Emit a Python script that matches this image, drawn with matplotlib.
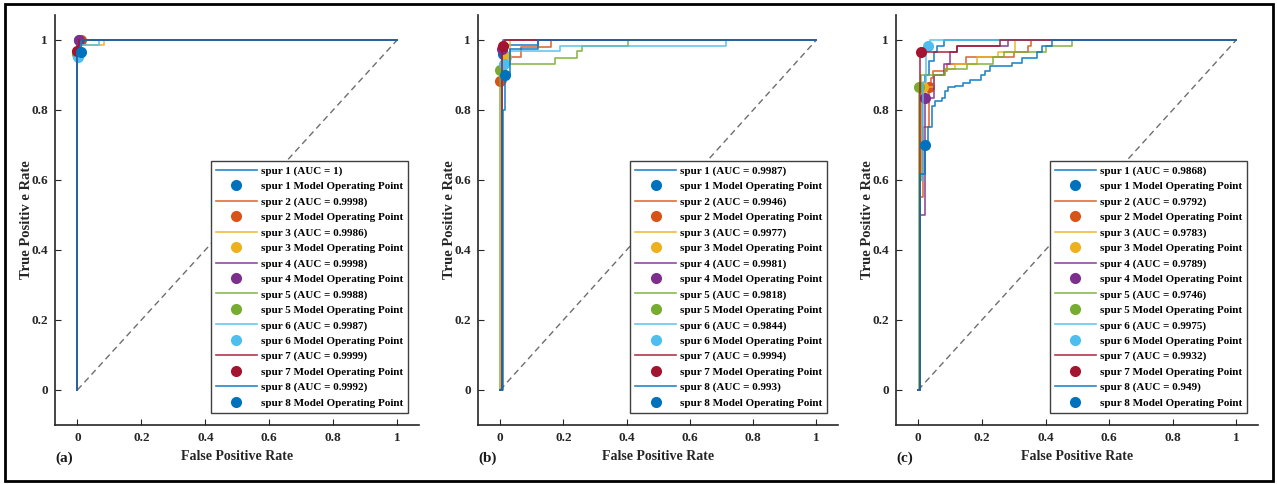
import matplotlib
matplotlib.use('Agg')
import matplotlib.pyplot as plt
from matplotlib.patches import Rectangle

plt.rcParams['font.family'] = ['Liberation Serif', 'DejaVu Serif']
plt.rcParams['font.weight'] = 'bold'

# ---------------- data ----------------
spur_names = ['spur 1', 'spur 2', 'spur 3', 'spur 4', 'spur 5', 'spur 6', 'spur 7', 'spur 8']
colors = ['#0072BD', '#D95319', '#EDB120', '#7E2F8E', '#77AC30', '#4DBEEE', '#A2142F', '#0072BD']
tick_vals = [0, 0.2, 0.4, 0.6, 0.8, 1]
tick_labels = ['0', '0.2', '0.4', '0.6', '0.8', '1']
panel_letters = ['(a)', '(b)', '(c)']

# panel (a): ROC staircase (FPR where TPR rises to the given value)
auc_a = ['1', '0.9998', '0.9986', '0.9998', '0.9988', '0.9987', '0.9999', '0.9992']
fpr_a = [[0, 0, 1], [0, 0, 0.01, 1], [0, 0, 0.01, 0.082, 1], [0, 0, 0.005, 1],
         [0, 0, 0.012, 1], [0, 0, 0.01, 0.069, 1], [0, 0, 0.005, 1], [0, 0, 0.01, 1]]
tpr_a = [[0, 1, 1], [0, 0.97, 1, 1], [0, 0.96, 0.985, 1, 1], [0, 0.99, 1, 1],
         [0, 0.95, 1, 1], [0, 0.94, 0.985, 1, 1], [0, 0.965, 1, 1], [0, 0.96, 1, 1]]
op_fpr_a = [0.005, 0.01, 0.0, 0.005, 0.0, 0.003, 0.0, 0.01]
op_tpr_a = [1.0, 1.0, 0.965, 1.0, 0.96, 0.95, 0.968, 0.966]

# panel (b)
auc_b = ['0.9987', '0.9946', '0.9977', '0.9981', '0.9818', '0.9844', '0.9994', '0.993']
fpr_b = [[0, 0.005, 0.02, 0.12, 1],
         [0, 0.005, 0.02, 0.065, 0.16, 1],
         [0, 0.005, 0.02, 0.03, 1],
         [0, 0.005, 0.01, 1],
         [0, 0, 0.02, 0.174, 0.244, 0.258, 0.404, 1],
         [0, 0.005, 0.03, 0.189, 0.715, 1],
         [0, 0.005, 0.015, 1],
         [0, 0.01, 0.016, 0.03, 0.12, 1]]
tpr_b = [[0, 0.95, 0.985, 1, 1],
         [0, 0.88, 0.95, 0.98, 1, 1],
         [0, 0.9, 0.95, 1, 1],
         [0, 0.97, 1, 1],
         [0, 0.915, 0.932, 0.949, 0.967, 0.983, 1, 1],
         [0, 0.93, 0.967, 0.983, 1, 1],
         [0, 0.983, 1, 1],
         [0, 0.8, 0.9, 0.975, 1, 1]]
op_fpr_b = [0.01, 0.0, 0.02, 0.005, 0.0, 0.013, 0.008, 0.016]
op_tpr_b = [0.96, 0.883, 0.95, 0.975, 0.915, 0.93, 0.983, 0.90]

# panel (c)
auc_c = ['0.9868', '0.9792', '0.9783', '0.9789', '0.9746', '0.9975', '0.9932', '0.949']
fpr_c = [[0, 0.005, 0.012, 0.02, 0.035, 0.05, 0.06, 0.08, 1],
         [0, 0.005, 0.015, 0.034, 0.04, 0.045, 0.09, 0.15, 0.3, 0.345, 0.355, 1],
         [0, 0.005, 0.01, 0.05, 0.085, 0.116, 0.184, 0.25, 0.304, 1],
         [0, 0.005, 0.022, 0.05, 0.08, 0.1, 0.121, 0.283, 1],
         [0, 0.003, 0.01, 0.085, 0.153, 0.236, 0.27, 0.4, 0.482, 1],
         [0, 0.005, 0.015, 0.025, 0.038, 1],
         [0, 0.005, 0.121, 0.257, 1],
         [0, 0.005, 0.02, 0.03, 0.043, 0.053, 0.074, 0.085, 0.095, 0.116, 0.142,
          0.163, 0.197, 0.21, 0.226, 0.294, 0.325, 0.372, 0.388, 0.419, 1]]
tpr_c = [[0, 0.6, 0.85, 0.9, 0.94, 0.965, 0.983, 1, 1],
         [0, 0.55, 0.75, 0.866, 0.89, 0.91, 0.93, 0.95, 0.964, 0.983, 1, 1],
         [0, 0.6, 0.866, 0.9, 0.916, 0.93, 0.95, 0.964, 1, 1],
         [0, 0.5, 0.833, 0.9, 0.93, 0.964, 0.983, 1, 1],
         [0, 0.866, 0.9, 0.916, 0.93, 0.95, 0.964, 0.983, 1, 1],
         [0, 0.6, 0.88, 0.983, 1, 1],
         [0, 0.964, 0.983, 1, 1],
         [0, 0.617, 0.70, 0.75, 0.811, 0.826, 0.835, 0.854, 0.864, 0.869, 0.876,
          0.885, 0.90, 0.911, 0.926, 0.935, 0.949, 0.964, 0.983, 1.0, 1.0]]
op_fpr_c = [0.008, 0.034, 0.015, 0.022, 0.003, 0.032, 0.008, 0.022]
op_tpr_c = [0.866, 0.866, 0.866, 0.833, 0.866, 0.983, 0.964, 0.70]

panels = [
    (auc_a, fpr_a, tpr_a, op_fpr_a, op_tpr_a),
    (auc_b, fpr_b, tpr_b, op_fpr_b, op_tpr_b),
    (auc_c, fpr_c, tpr_c, op_fpr_c, op_tpr_c),
]

# ---------------- layout ----------------
W, H = 1277, 484
fig = plt.figure(figsize=(W / 100, H / 100), dpi=100)
fig.patch.set_facecolor('white')

ax_px = [(55, 364), (478, 360), (896, 362)]  # left, width (px)
top_px, bot_px = 15, 425

for k, (auc, fpr, tpr, opx, opy) in enumerate(panels):
    left, width = ax_px[k]
    ax = fig.add_axes([left / W, 1 - bot_px / H, width / W, (bot_px - top_px) / H])
    ax.plot([0, 1], [0, 1], linestyle=(0, (4.5, 3)), color='#6e6e6e', lw=1.0, zorder=1)
    for i in range(8):
        ax.plot(fpr[i], tpr[i], drawstyle='steps-post', color=colors[i], lw=1.2,
                alpha=0.85, label=f'{spur_names[i]} (AUC = {auc[i]})', zorder=2 + 2 * i)
        ax.plot([opx[i]], [opy[i]], 'o', color=colors[i], ms=8, mec='none',
                label=f'{spur_names[i]} Model Operating Point', zorder=3 + 2 * i)
    ax.set_xlim(-0.07, 1.068)
    ax.set_ylim(-0.1, 1.071)
    ax.set_xticks(tick_vals)
    ax.set_xticklabels(tick_labels)
    ax.set_yticks(tick_vals)
    ax.set_yticklabels(tick_labels)
    ax.tick_params(direction='in', length=4, width=0.8, labelsize=9.5, pad=5, colors='#262626')
    for lab in ax.get_xticklabels() + ax.get_yticklabels():
        lab.set_fontweight('bold')
        lab.set_color('#262626')
    for s in ['top', 'right']:
        ax.spines[s].set_visible(False)
    for s in ['left', 'bottom']:
        ax.spines[s].set_linewidth(1.2)
        ax.spines[s].set_color('#262626')
    ax.set_xlabel('False Positive Rate', fontsize=10, fontweight='bold', labelpad=4, color='#262626')
    ax.set_ylabel('True Positiv e Rate', fontsize=10.5, fontweight='bold', labelpad=-1.5, color='#262626')
    ax.text(0.0, -0.08, panel_letters[k], transform=ax.transAxes, fontsize=11,
            fontweight='bold', ha='left', va='center', color='#1a1a1a')
    leg = ax.legend(loc='lower right', bbox_to_anchor=(0.97, 0.03), fontsize=8,
                    handlelength=3.7, handletextpad=0.35, labelspacing=0.5,
                    borderpad=0.45, borderaxespad=0.0, fancybox=False, framealpha=1,
                    edgecolor='#404040')
    leg.get_frame().set_linewidth(1.0)
    for t in leg.get_texts():
        t.set_fontweight('bold')

fig.add_artist(Rectangle((5 / W, 3 / H), (1273 - 5) / W, (480 - 3) / H,
                         transform=fig.transFigure, fill=False, lw=2, ec='black'))

fig.savefig('out.png', dpi=100)
